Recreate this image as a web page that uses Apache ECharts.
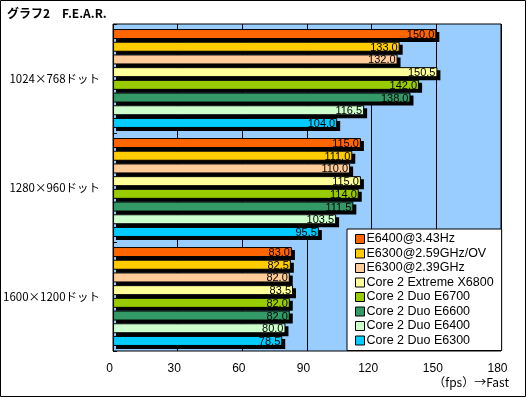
<!DOCTYPE html>
<html><head><meta charset="utf-8">
<script src="https://cdn.jsdelivr.net/npm/echarts@6/dist/echarts.min.js"></script>
<style>html,body{margin:0;padding:0;background:#fff}#c{width:527px;height:398px}</style>
</head><body><div id="c"></div>
<script>
const title = 'グラフ2　F.E.A.R.';
const categories = ['1024×768ドット', '1280×960ドット', '1600×1200ドット'];
const seriesNames = ['E6400@3.43Hz', 'E6300@2.59GHz/OV', 'E6300@2.39GHz', 'Core 2 Extreme X6800', 'Core 2 Duo E6700', 'Core 2 Duo E6600', 'Core 2 Duo E6400', 'Core 2 Duo E6300'];
const colors = ['#FF6600', '#FFCC00', '#FFCC99', '#FFFF99', '#99CC00', '#339966', '#CCFFCC', '#00CCFF'];
const e6400oc = [150.0, 115.0, 83.0];
const e6300ov = [133.0, 111.0, 82.5];
const e6300oc = [132.0, 110.0, 82.0];
const x6800 = [150.5, 115.0, 83.5];
const e6700 = [142.0, 114.0, 82.0];
const e6600 = [138.0, 111.5, 82.0];
const e6400 = [116.5, 103.5, 80.0];
const e6300 = [104.0, 95.5, 78.5];
const values = [e6400oc, e6300ov, e6300oc, x6800, e6700, e6600, e6400, e6300];
const xTicks = { min: 0, max: 180, interval: 30 };
const axisNote = '（fps）→Fast';

const FONT = '"Noto Sans CJK JP", sans-serif';
const LAT = '"Liberation Sans", "Noto Sans CJK JP", sans-serif';
const G = { left: 113, right: 26, top: 24, bottom: 47 };
const SH = 3;
const chart = echarts.init(document.getElementById('c'), null, { renderer: 'canvas' });
const barCommon = { type: 'bar', barWidth: 10, barGap: '27%' };
chart.setOption({
  backgroundColor: '#fff',
  animation: false,
  textStyle: { fontFamily: FONT },
  grid: [
    { left: G.left, right: G.right, top: G.top, bottom: G.bottom, show: true, backgroundColor: '#99CCFF', borderColor: '#000', borderWidth: 1 },
    { left: G.left + SH, right: G.right - SH, top: G.top + SH, bottom: G.bottom - SH, show: false }
  ],
  xAxis: [{
    gridIndex: 0, type: 'value', min: xTicks.min, max: xTicks.max, interval: xTicks.interval,
    axisLine: { show: false }, axisTick: { show: false },
    splitLine: { show: true, lineStyle: { color: '#000', width: 1 } },
    axisLabel: { color: '#000', fontSize: 12, fontFamily: LAT, margin: 12, padding: [0, 7, 0, 0] }
  }, {
    gridIndex: 1, type: 'value', min: xTicks.min, max: xTicks.max, interval: xTicks.interval, show: false, splitLine: { show: false }
  }],
  yAxis: [{
    gridIndex: 0, type: 'category', data: categories, inverse: true,
    axisLine: { show: false },
    axisTick: { show: true, inside: true, length: 4, lineStyle: { color: '#000' } },
    axisLabel: { color: '#000', fontSize: 11.5, fontFamily: FONT, margin: 13 },
    splitLine: { show: false }
  }, {
    gridIndex: 1, type: 'category', data: categories, inverse: true, show: false
  }],
  legend: {
    orient: 'vertical', left: 347, top: 229, width: 153,
    backgroundColor: '#fff', borderColor: '#000', borderWidth: 1,
    padding: [3, 8, 3, 8], itemGap: 0.5, itemWidth: 9, itemHeight: 9,
    icon: 'rect',
    textStyle: { color: '#000', fontSize: 12.5, lineHeight: 14, fontFamily: LAT, padding: [0, 0, 0, -3] },
    itemStyle: { borderColor: '#000', borderWidth: 1 },
    data: seriesNames
  },
  graphic: [
    { type: 'rect', shape: { x: 0.5, y: 0.5, width: 525, height: 396 }, style: { fill: 'none', stroke: '#000', lineWidth: 1 }, silent: true, z: 100 },
    { type: 'text', left: 7, top: 7, style: { text: title, fill: '#000', font: 'bold 12px ' + FONT } },
    { type: 'text', right: 18, top: 376, style: { text: axisNote, fill: '#000', font: '12px ' + FONT } }
  ],
  series: [
    ...seriesNames.map((n, i) => Object.assign({}, barCommon, {
      name: n + ' (shadow)', xAxisIndex: 1, yAxisIndex: 1, data: values[i], silent: true, z: 1,
      itemStyle: { color: '#000', borderWidth: 0 }, label: { show: false }
    })),
    ...seriesNames.map((n, i) => Object.assign({}, barCommon, {
      name: n, xAxisIndex: 0, yAxisIndex: 0, data: values[i], z: 3,
      itemStyle: { color: colors[i], borderColor: '#000', borderWidth: 1 },
      label: { show: true, position: 'insideRight', distance: 2, offset: [0, 1], color: '#000', fontSize: 11, fontFamily: LAT, textBorderWidth: 0, formatter: p => p.value.toFixed(1) }
    }))
  ]
});
</script></body></html>
